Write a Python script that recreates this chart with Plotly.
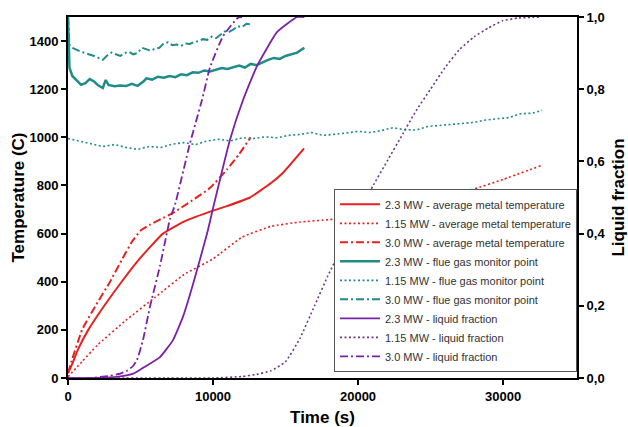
import plotly.graph_objects as go

# ---------------- data ----------------
# average metal temperature (C)
metal_23_t = [0, 300, 700, 1400, 2500, 3700, 5000, 6550, 8000, 9650, 11000, 12550, 14000, 14830, 16280]
metal_23_T = [20, 60, 120, 200, 300, 400, 500, 600, 650, 688, 715, 750, 810, 853, 954]

metal_115_t = [0, 1000, 2000, 4000, 6000, 8000, 10000, 12000, 14000, 16000, 18000, 20000, 22000, 24000, 26000, 28000, 30000, 32700]
metal_115_T = [5, 70, 135, 240, 335, 430, 495, 585, 630, 648, 658, 668, 685, 712, 748, 785, 825, 884]

metal_30_t = [0, 300, 970, 1900, 2900, 3700, 4400, 5000, 5650, 6400, 7240, 8500, 9800, 10960, 11800, 12600]
metal_30_T = [20, 80, 200, 300, 400, 490, 565, 612, 637, 660, 686, 735, 790, 866, 930, 1000]

# flue gas monitor point (C)
flue_23_t = [0, 100, 300, 600, 900, 1200, 1500, 1800, 2100, 2400, 2600, 2800, 3200, 3600, 4000, 4400, 4800, 5200,
             5400, 5800, 6200, 6600, 7000, 7400, 7800, 8200, 8600, 9000, 9400, 9800, 10200, 10600, 11000, 11400,
             11800, 12200, 12600, 13000, 13400, 13800, 14200, 14600, 15000, 15400, 15800, 16300]
flue_23_T = [1500, 1290, 1255, 1235, 1218, 1225, 1242, 1232, 1215, 1205, 1238, 1218, 1212, 1215, 1213, 1222, 1214, 1232,
             1245, 1240, 1252, 1248, 1255, 1250, 1262, 1258, 1270, 1268, 1278, 1274, 1282, 1288, 1284, 1292,
             1298, 1290, 1305, 1300, 1312, 1322, 1330, 1326, 1338, 1344, 1352, 1372]

flue_115_t = [0, 800, 1600, 2400, 3200, 4000, 4800, 5600, 6400, 7200, 8000, 8800, 9600, 10400, 11200, 12000, 12800,
              13600, 14400, 15200, 16000, 16800, 17600, 18400, 19200, 20000, 20800, 21600, 22400, 23200, 24000,
              24800, 25600, 26400, 27200, 28000, 28800, 29600, 30400, 31200, 32000, 32700]
flue_115_T = [995, 985, 975, 962, 970, 958, 950, 962, 958, 972, 978, 970, 985, 992, 985, 998, 995,
              1002, 998, 1008, 1012, 1020, 1008, 1012, 1018, 1025, 1020, 1028, 1040, 1032, 1030,
              1045, 1050, 1055, 1058, 1062, 1072, 1078, 1082, 1098, 1100, 1112]

flue_30_t = [0, 100, 300, 600, 900, 1200, 1500, 1800, 2100, 2400, 2700, 3000, 3300, 3600, 3900, 4200, 4500, 4800,
             5100, 5400, 5700, 6000, 6300, 6600, 6900, 7200, 7500, 7800, 8100, 8400, 8700, 9000, 9300, 9600,
             9900, 10200, 10500, 10800, 11100, 11400, 11700, 12000, 12300, 12700]
flue_30_T = [1500, 1385, 1372, 1362, 1355, 1350, 1345, 1338, 1330, 1322, 1340, 1352, 1345, 1338, 1350, 1356, 1345, 1350,
             1372, 1365, 1360, 1368, 1372, 1390, 1395, 1383, 1386, 1380, 1390, 1388, 1396, 1400, 1408, 1405,
             1418, 1412, 1425, 1440, 1438, 1448, 1462, 1458, 1472, 1468]

# liquid fraction (-)
liq_23_t = [0, 2000, 3500, 4500, 5170, 6340, 7240, 7930, 8620, 9590, 10000, 11170, 12070, 13030, 14410, 15800, 16300]
liq_23_f = [0, 0, 0.004, 0.012, 0.028, 0.058, 0.105, 0.17, 0.26, 0.40, 0.47, 0.66, 0.77, 0.864, 0.958, 1.0, 1.0]

liq_115_t = [0, 10000, 12000, 13000, 14000, 15000, 16000, 17000, 18000, 19000, 20000, 21000, 22000, 23000, 24000,
             25000, 26000, 27000, 28000, 29000, 30000, 31000, 32500]
liq_115_f = [0, 0, 0.004, 0.01, 0.02, 0.045, 0.11, 0.2, 0.29, 0.37, 0.45, 0.53, 0.6, 0.67, 0.74,
             0.8, 0.86, 0.91, 0.945, 0.97, 0.99, 0.997, 1.0]

liq_30_t = [0, 1500, 2900, 3600, 4070, 4500, 4760, 5170, 5650, 6340, 7030, 7380, 8410, 9240, 9790, 10690, 11720, 12000]
liq_30_f = [0, 0, 0.006, 0.012, 0.02, 0.034, 0.05, 0.105, 0.197, 0.31, 0.44, 0.48, 0.65, 0.77, 0.86, 0.947, 0.998, 1.0]

x_ticks = [0, 10000, 20000, 30000]
x_ticklabels = ["0", "10000", "20000", "30000"]
y_ticks = [0, 200, 400, 600, 800, 1000, 1200, 1400]
y2_ticks = [0, 0.2, 0.4, 0.6, 0.8, 1.0]
y2_ticklabels = ["0,0", "0,2", "0,4", "0,6", "0,8", "1,0"]

# ---------------- style ----------------
RED = "#e42320"
TEAL = "#1f8c8a"
PURPLE = "#7a22a6"
PURPLE_DOT = "#6b3a8c"
DOT = "2px,2.5px"
DASHDOT = "8px,3px,2px,3px"
FONT = "Arial, Liberation Sans, sans-serif"

fig = go.Figure()

series = [
    (metal_23_t, metal_23_T, "2.3 MW - average metal temperature", RED, "solid", 2, "y", True),
    (metal_115_t, metal_115_T, "1.15 MW - average metal temperature", RED, DOT, 1.6, "y", True),
    (metal_30_t, metal_30_T, "3.0 MW - average metal temperature", RED, DASHDOT, 2, "y", True),
    (flue_23_t, flue_23_T, "2.3 MW - flue gas monitor point", TEAL, "solid", 2.5, "y", False),
    (flue_115_t, flue_115_T, "1.15 MW - flue gas monitor point", TEAL, DOT, 1.6, "y", False),
    (flue_30_t, flue_30_T, "3.0 MW - flue gas monitor point", TEAL, DASHDOT, 2, "y", False),
    (liq_23_t, liq_23_f, "2.3 MW - liquid fraction", PURPLE, "solid", 1.8, "y2", True),
    (liq_115_t, liq_115_f, "1.15 MW - liquid fraction", PURPLE_DOT, DOT, 1.6, "y2", True),
    (liq_30_t, liq_30_f, "3.0 MW - liquid fraction", PURPLE, DASHDOT, 1.8, "y2", True),
]

for t, v, name, color, dash, w, ax, smooth in series:
    line = dict(color=color, dash=dash, width=w)
    if smooth:
        line.update(shape="spline", smoothing=0.4)
    fig.add_trace(go.Scatter(x=t, y=v, name=name, mode="lines", yaxis=ax, line=line))

fig.update_layout(
    width=628, height=427,
    margin=dict(l=68, r=51, t=17, b=49, autoexpand=False),
    plot_bgcolor="white", paper_bgcolor="white",
    font=dict(family=FONT, color="black"),
    showlegend=True,
    legend=dict(
        x=1, xanchor="right", y=0.017, yanchor="bottom",
        bgcolor="white", bordercolor="#555555", borderwidth=1,
        font=dict(size=11, color="#333333", family=FONT),
        itemwidth=40, tracegroupgap=0,
    ),
    xaxis=dict(
        range=[0, 35100], tickvals=x_ticks, ticktext=x_ticklabels, automargin=False,
        showline=True, linecolor="black", linewidth=2,
        mirror=True, ticks="outside", ticklen=5, tickwidth=1.5, tickcolor="black",
        showgrid=False, zeroline=False,
        tickfont=dict(size=13, weight="bold"),
        title=dict(text="Time (s)", font=dict(size=17, weight="bold"), standoff=9),
    ),
    yaxis=dict(
        range=[0, 1500], tickvals=y_ticks, automargin=False,
        showline=True, linecolor="black", linewidth=2,
        ticks="outside", ticklen=5, tickwidth=1.5, tickcolor="black",
        showgrid=False, zeroline=False,
        tickfont=dict(size=13, weight="bold"),
        title=dict(text="Temperature (C)", font=dict(size=17, weight="bold"), standoff=1),
    ),
    yaxis2=dict(
        range=[0, 1], overlaying="y", side="right", tickvals=y2_ticks, ticktext=y2_ticklabels,
        automargin=False, showline=True, linecolor="black", linewidth=2,
        ticks="outside", ticklen=5, tickwidth=1.5, tickcolor="black",
        showgrid=False, zeroline=False,
        tickfont=dict(size=13, weight="bold"),
        title=dict(text="Liquid fraction", font=dict(size=17, weight="bold"), standoff=8),
    ),
)

fig.write_html("out.html")
